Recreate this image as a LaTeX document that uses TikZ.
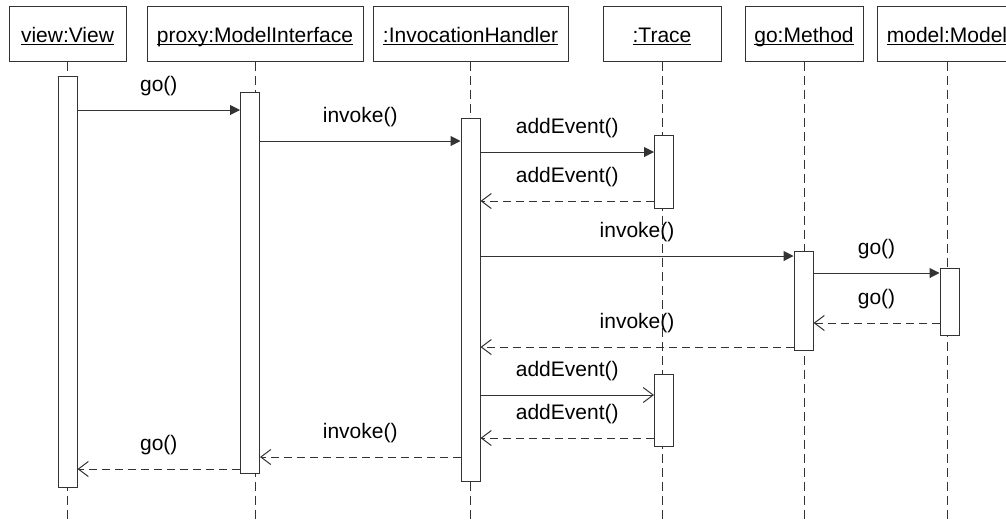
\documentclass[tikz,border=0pt]{standalone}
\usepackage{fontspec}
\setmainfont{Liberation Sans}
\usetikzlibrary{arrows.meta, positioning}

\colorlet{umlline}{black!80}
\newcommand{\objname}[1]{\underline{\smash{#1}}}

\begin{document}
\begin{tikzpicture}[x=1pt, y=-1pt,
  head/.style={draw=umlline, line width=1pt, minimum height=55pt, inner sep=0pt,
    text height=18pt, text depth=0pt, font=\fontsize{21}{24}\selectfont},
  act/.style={draw=umlline, line width=1pt, fill=white, minimum width=19pt, inner sep=0pt},
  life/.style={draw=umlline, line width=1pt, dash pattern=on 9pt off 5pt},
  call/.style={draw=umlline, line width=1pt, -{Triangle[length=10pt, width=10pt]}},
  ocall/.style={draw=umlline, line width=1pt, -{Straight Barb[length=10pt, width=15pt]}},
  reply/.style={draw=umlline, line width=1pt, dash pattern=on 8pt off 5pt,
    -{Straight Barb[length=10pt, width=15pt]}},
  msg/.style={font=\fontsize{21}{24}\selectfont, text height=15pt, text depth=5pt,
    inner sep=0pt, above=13.5pt}]

  \useasboundingbox (0,0) rectangle (1006,523);
  \clip (0,0) rectangle (1006,523);

  % object boxes
  \node[head, minimum width=117pt] (hv) at (67.5,33.5) {\objname{view:View}};
  \node[head, minimum width=216pt] (hp) at (255,33.5) {\objname{proxy:ModelInterface}};
  \node[head, minimum width=195pt] (hi) at (470.5,33.5) {\objname{:InvocationHandler}};
  \node[head, minimum width=118pt] (ht) at (662,33.5) {\objname{:Trace}};
  \node[head, minimum width=118pt] (hm) at (804,33.5) {\objname{go:Method}};
  \node[head, minimum width=140pt] (ho) at (947,33.5) {\objname{model:Model}};

  % lifelines
  \foreach \h in {hv,hp,hi,ht,hm,ho}
    \draw[life] (\h.south) -- (\h.south |- 0,523);

  % activations
  \node[act, minimum height=411pt] (av) at (67.5,281.5) {};
  \node[act, minimum height=381pt] (ap) at (250,282.5) {};
  \node[act, minimum height=363pt] (ai) at (470.5,299.5) {};
  \node[act, minimum height=73pt] (at1) at (664,171.5) {};
  \node[act, minimum height=99pt] (am) at (803.5,300.5) {};
  \node[act, minimum height=67pt] (ao) at (949.5,301.5) {};
  \node[act, minimum height=72pt] (at2) at (664,410) {};

  % messages
  \draw[call] (av.east |- 0,110) -- node[msg] {go()} (ap.west |- 0,110);
  \draw[call] (ap.east |- 0,141) -- node[msg] {invoke()} (ai.west |- 0,141);
  \draw[call] (ai.east |- 0,152) -- node[msg] {addEvent()} (at1.west |- 0,152);
  \draw[reply] (at1.west |- 0,201) -- node[msg] {addEvent()} (ai.east |- 0,201);
  \draw[call] (ai.east |- 0,256) -- node[msg] {invoke()} (am.west |- 0,256);
  \draw[call] (am.east |- 0,273) -- node[msg] {go()} (ao.west |- 0,273);
  \draw[reply] (ao.west |- 0,323) -- node[msg] {go()} (am.east |- 0,323);
  \draw[reply] (am.west |- 0,347) -- node[msg] {invoke()} (ai.east |- 0,347);
  \draw[ocall] (ai.east |- 0,395) -- node[msg] {addEvent()} (at2.west |- 0,395);
  \draw[reply] (at2.west |- 0,438) -- node[msg] {addEvent()} (ai.east |- 0,438);
  \draw[reply] (ai.west |- 0,457) -- node[msg] {invoke()} (ap.east |- 0,457);
  \draw[reply] (ap.west |- 0,469) -- node[msg] {go()} (av.east |- 0,469);

\end{tikzpicture}
\end{document}
